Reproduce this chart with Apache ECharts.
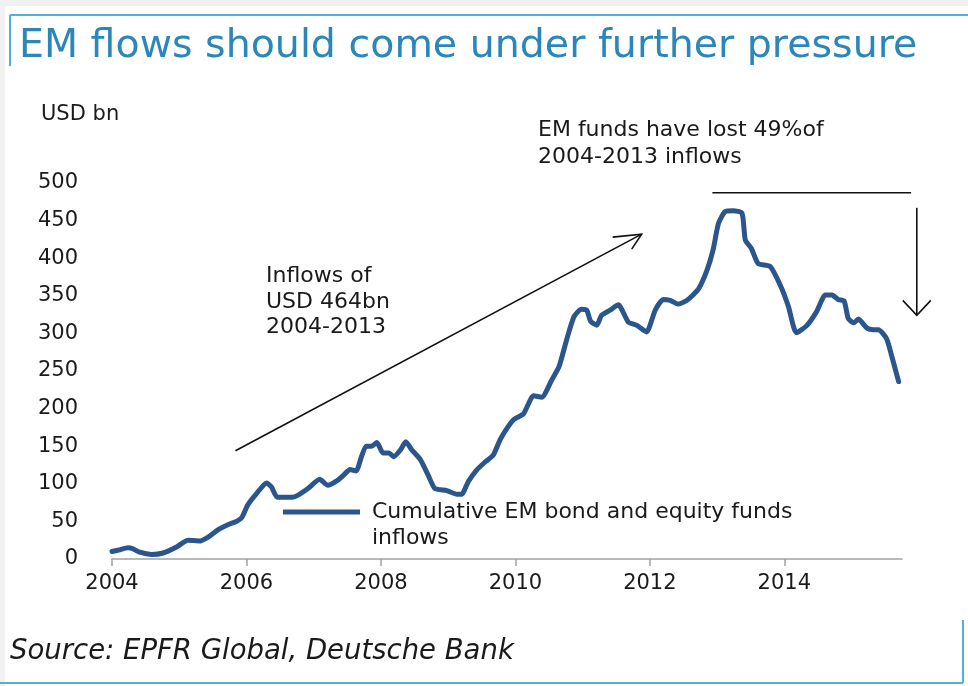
<!DOCTYPE html>
<html><head><meta charset="utf-8">
<script src="https://cdn.jsdelivr.net/npm/echarts@6/dist/echarts.min.js"></script>
<style>html,body{margin:0;padding:0;background:#fff}#c{width:968px;height:686px}</style>
</head><body><div id="c"></div>
<script>
// ---- data ----
const years = [2004.00,2004.10,2004.24,2004.30,2004.41,2004.59,2004.76,2004.96,2005.13,2005.31,2005.43,2005.58,2005.73,2005.85,2005.93,
  2006.02,2006.15,2006.30,2006.37,2006.46,2006.67,2006.77,2006.92,2007.09,2007.21,2007.36,2007.45,2007.54,2007.63,2007.71,2007.78,2007.86,2007.94,
  2008.03,2008.12,2008.19,2008.29,2008.37,2008.46,2008.58,2008.70,2008.80,2008.98,2009.13,2009.20,2009.30,2009.42,2009.55,2009.67,2009.78,2009.97,
  2010.12,2010.27,2010.39,2010.54,2010.65,2010.76,2010.87,2010.98,2011.06,2011.12,2011.21,2011.28,2011.41,2011.53,2011.68,2011.80,2011.95,
  2012.08,2012.20,2012.30,2012.42,2012.55,2012.63,2012.73,2012.85,2012.94,2013.02,2013.12,2013.24,2013.37,2013.42,2013.51,2013.61,2013.79,2013.94,
  2014.06,2014.18,2014.33,2014.48,2014.61,2014.71,2014.80,2014.89,2014.95,2015.03,2015.10,2015.23,2015.32,2015.40,2015.52,2015.60,2015.70];
const flows = [10,12,15,14,9,6,8,16,25,24,29,39,46,50,55,
  72,87,101,96,82,82,85,94,106,98,105,112,119,117,136,150,150,155,
  141,141,136,145,156,145,133,112,94,91,86,86,103,118,129,138,160,185,
  193,217,215,238,256,291,322,332,331,316,311,324,331,338,315,311,302,
  331,345,344,339,344,350,360,384,411,446,462,463,460,424,413,393,389,364,
  336,301,310,329,351,351,345,343,320,314,319,307,305,305,293,269,236];
const xTicks = [2004, 2006, 2008, 2010, 2012, 2014];
const yTicks = [0, 50, 100, 150, 200, 250, 300, 350, 400, 450, 500];
const seriesName = 'Cumulative EM bond and equity funds\ninflows';
const titleText = 'EM flows should come under further pressure';
const unitText = 'USD bn';
const note1 = 'Inflows of\nUSD 464bn\n2004-2013';
const note2 = 'EM funds have lost 49%of\n2004-2013 inflows';
const sourceText = 'Source: EPFR Global, Deutsche Bank';
// annotation anchors in data space
const riseArrow = [[2005.836, 144], [2011.878, 432]];
const topLine = [[2012.93, 487], [2015.885, 487]];
const dropArrow = [[2015.97, 467], [2015.97, 324]];

const FONT = 'DejaVu Sans';
const chart = echarts.init(document.getElementById('c'), null, {renderer: 'canvas'});

const option = {
  animation: false,
  backgroundColor: '#ffffff',
  grid: {left: 112, right: 66, top: 183, bottom: 127, containLabel: false, outerBoundsMode: 'none'},
  xAxis: {
    type: 'value', min: 2004, max: 2015.75, interval: 2,
    axisLine: {show: true, lineStyle: {color: '#a3a3a3', width: 1.5}},
    axisTick: {show: true, length: 7, customValues: xTicks, lineStyle: {color: '#a3a3a3', width: 1.5}},
    axisLabel: {customValues: xTicks, formatter: v => String(v), fontFamily: FONT, fontSize: 21, color: '#1a1a1a', margin: 14},
    splitLine: {show: false}
  },
  yAxis: {
    type: 'value', min: 0, max: 500, interval: 50,
    axisLine: {show: false}, axisTick: {show: false}, splitLine: {show: false},
    axisLabel: {customValues: yTicks, formatter: v => String(v), fontFamily: FONT, fontSize: 21, color: '#1a1a1a', margin: 34}
  },
  legend: {
    data: [{name: seriesName, icon: 'rect'}],
    left: 283, top: 473, padding: 0, itemWidth: 77, itemHeight: 5, selectedMode: false,
    formatter: name => '\n' + name,
    textStyle: {fontFamily: FONT, fontSize: 22, color: '#1a1a1a', lineHeight: 26, padding: [0, 0, 0, 7]}
  },
  series: [{
    name: seriesName, type: 'line', showSymbol: false, symbol: 'none', smooth: 0.2,
    lineStyle: {color: '#2a568b', width: 5, join: 'round', cap: 'round'},
    itemStyle: {color: '#2a568b'},
    data: years.map((y, i) => [y, flows[i]])
  }]
};
chart.setOption(option);

const P = p => chart.convertToPixel({gridIndex: 0}, p);
const blk = {stroke: '#111', lineWidth: 1.6};
const frame = {stroke: '#4fb0da', lineWidth: 2};
const r0 = P(riseArrow[0]), r1 = P(riseArrow[1]);
const h0 = P(topLine[0]), h1 = P(topLine[1]);
const d0 = P(dropArrow[0]), d1 = P(dropArrow[1]);

chart.setOption({graphic: [
  {type: 'rect', shape: {x: 0, y: 0, width: 968, height: 6}, style: {fill: '#f1f1f1'}, silent: true},
  {type: 'rect', shape: {x: 0, y: 0, width: 5, height: 686}, style: {fill: '#f1f1f1'}, silent: true},
  {type: 'line', shape: {x1: 10, y1: 15, x2: 968, y2: 15}, style: frame},
  {type: 'line', shape: {x1: 10, y1: 15, x2: 10, y2: 66}, style: frame},
  {type: 'line', shape: {x1: 0, y1: 683, x2: 963, y2: 683}, style: frame},
  {type: 'line', shape: {x1: 963, y1: 620, x2: 963, y2: 683}, style: frame},
  {type: 'text', x: 19, y: 47, style: {text: titleText, fontFamily: FONT, fontSize: 39.5, fill: '#2b87ba', verticalAlign: 'middle'}},
  {type: 'text', x: 41, y: 115, style: {text: unitText, fontFamily: FONT, fontSize: 21, fill: '#1a1a1a', verticalAlign: 'middle'}},
  {type: 'text', x: 266, y: 264, style: {text: note1, fontFamily: FONT, fontSize: 22, lineHeight: 25.5, fill: '#1a1a1a', verticalAlign: 'top'}},
  {type: 'text', x: 538, y: 116.5, style: {text: note2, fontFamily: FONT, fontSize: 22, lineHeight: 27, fill: '#1a1a1a', verticalAlign: 'top'}},
  {type: 'text', x: 10, y: 652, style: {text: sourceText, fontFamily: FONT, fontStyle: 'italic', fontSize: 27.5, fill: '#1a1a1a', verticalAlign: 'middle'}},
  {type: 'line', shape: {x1: r0[0], y1: r0[1], x2: r1[0], y2: r1[1]}, style: blk},
  {type: 'polyline', shape: {points: [[r1[0] - 29, r1[1] + 3], r1, [r1[0] - 10, r1[1] + 15]]}, style: Object.assign({fill: null}, blk)},
  {type: 'line', shape: {x1: h0[0], y1: h0[1], x2: h1[0], y2: h1[1]}, style: blk},
  {type: 'line', shape: {x1: d0[0], y1: d0[1], x2: d1[0], y2: d1[1]}, style: blk},
  {type: 'polyline', shape: {points: [[d1[0] - 14, d1[1] - 15], d1, [d1[0] + 14, d1[1] - 15]]}, style: Object.assign({fill: null}, blk)}
]});
</script>
</body></html>
